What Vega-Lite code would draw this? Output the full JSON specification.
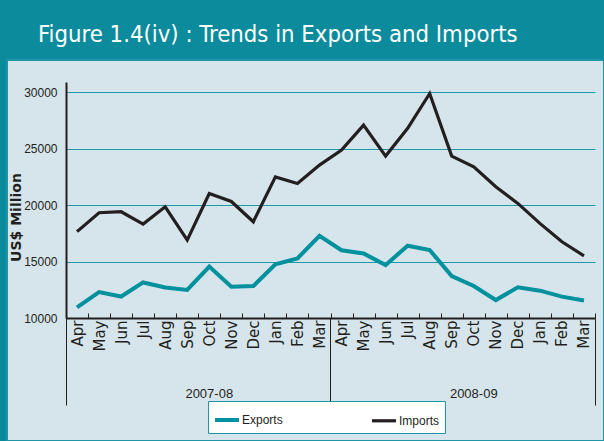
{
  "$schema": "https://vega.github.io/schema/vega-lite/v6.json",
  "autosize": {"type": "none"},
  "padding": {"left": 7, "top": 60, "right": 0, "bottom": 0},
  "background": "#0B8B9B",
  "width": 597,
  "height": 381,
  "view": {"fill": "#D6E5EB", "stroke": "#1F95A5", "strokeWidth": 2},
  "config": {"font": "DejaVu Sans"},
  "title": {"text": "Figure 1.4(iv) : Trends in Exports and Imports", "anchor": "start", "frame": "group", "orient": "top", "offset": -6, "dx": 31, "color": "white", "fontSize": 23.7, "fontWeight": "normal", "font": "DejaVu Sans Condensed, DejaVu Sans", "baseline": "alphabetic"},
  "data": {"values": [
      {"period": "2007-08|Apr", "series": "Exports", "value": 10950},
      {"period": "2007-08|May", "series": "Exports", "value": 12300},
      {"period": "2007-08|Jun", "series": "Exports", "value": 11900},
      {"period": "2007-08|Jul", "series": "Exports", "value": 13150},
      {"period": "2007-08|Aug", "series": "Exports", "value": 12700},
      {"period": "2007-08|Sep", "series": "Exports", "value": 12480},
      {"period": "2007-08|Oct", "series": "Exports", "value": 14550},
      {"period": "2007-08|Nov", "series": "Exports", "value": 12770},
      {"period": "2007-08|Dec", "series": "Exports", "value": 12830},
      {"period": "2007-08|Jan", "series": "Exports", "value": 14750},
      {"period": "2007-08|Feb", "series": "Exports", "value": 15280},
      {"period": "2007-08|Mar", "series": "Exports", "value": 17280},
      {"period": "2008-09|Apr", "series": "Exports", "value": 16000},
      {"period": "2008-09|May", "series": "Exports", "value": 15720},
      {"period": "2008-09|Jun", "series": "Exports", "value": 14690},
      {"period": "2008-09|Jul", "series": "Exports", "value": 16400},
      {"period": "2008-09|Aug", "series": "Exports", "value": 16020},
      {"period": "2008-09|Sep", "series": "Exports", "value": 13720},
      {"period": "2008-09|Oct", "series": "Exports", "value": 12830},
      {"period": "2008-09|Nov", "series": "Exports", "value": 11590},
      {"period": "2008-09|Dec", "series": "Exports", "value": 12720},
      {"period": "2008-09|Jan", "series": "Exports", "value": 12420},
      {"period": "2008-09|Feb", "series": "Exports", "value": 11890},
      {"period": "2008-09|Mar", "series": "Exports", "value": 11550},
      {"period": "2007-08|Apr", "series": "Imports", "value": 17650},
      {"period": "2007-08|May", "series": "Imports", "value": 19320},
      {"period": "2007-08|Jun", "series": "Imports", "value": 19410},
      {"period": "2007-08|Jul", "series": "Imports", "value": 18320},
      {"period": "2007-08|Aug", "series": "Imports", "value": 19850},
      {"period": "2007-08|Sep", "series": "Imports", "value": 16900},
      {"period": "2007-08|Oct", "series": "Imports", "value": 21030},
      {"period": "2007-08|Nov", "series": "Imports", "value": 20320},
      {"period": "2007-08|Dec", "series": "Imports", "value": 18520},
      {"period": "2007-08|Jan", "series": "Imports", "value": 22500},
      {"period": "2007-08|Feb", "series": "Imports", "value": 21910},
      {"period": "2007-08|Mar", "series": "Imports", "value": 23540},
      {"period": "2008-09|Apr", "series": "Imports", "value": 24870},
      {"period": "2008-09|May", "series": "Imports", "value": 27080},
      {"period": "2008-09|Jun", "series": "Imports", "value": 24340},
      {"period": "2008-09|Jul", "series": "Imports", "value": 26800},
      {"period": "2008-09|Aug", "series": "Imports", "value": 29880},
      {"period": "2008-09|Sep", "series": "Imports", "value": 24340},
      {"period": "2008-09|Oct", "series": "Imports", "value": 23390},
      {"period": "2008-09|Nov", "series": "Imports", "value": 21620},
      {"period": "2008-09|Dec", "series": "Imports", "value": 20150},
      {"period": "2008-09|Jan", "series": "Imports", "value": 18380},
      {"period": "2008-09|Feb", "series": "Imports", "value": 16750},
      {"period": "2008-09|Mar", "series": "Imports", "value": 15510}
  ]},
  "resolve": {"axis": {"x": "independent"}},
  "layer": [
    {
      "mark": {"type": "line"},
      "encoding": {
        "x": {
          "field": "period", "type": "ordinal", "sort": null,
          "scale": {"rangeMin": 59, "rangeMax": 588, "paddingInner": 0, "paddingOuter": 0},
          "axis": {"orient": "bottom", "offset": -123, "tickBand": "extent", "tickSize": -5, "tickColor": "#231F20", "tickWidth": 1, "domainColor": "#231F20", "domainWidth": 2, "labelAngle": -90, "labelExpr": "split(datum.value, '|')[1]", "labelFont": "DejaVu Sans", "labelFontSize": 15, "labelColor": "#231F20", "labelPadding": 7, "title": null, "grid": false}
        },
        "y": {
          "field": "value", "type": "quantitative",
          "scale": {"domain": [10000, 30900], "rangeMin": 258, "rangeMax": 22, "nice": false, "zero": false},
          "axis": {"offset": -59, "values": [10000, 15000, 20000, 25000, 30000], "format": "d", "ticks": false, "labelPadding": 9, "labelFont": "Liberation Sans", "labelFontSize": 12, "labelColor": "#231F20", "domainColor": "#231F20", "domainWidth": 2, "gridColor": "#1E97A8", "gridWidth": 1, "title": "US$ Million", "titleFont": "DejaVu Sans", "titleFontWeight": "bold", "titleFontSize": 14, "titleColor": "#231F20", "titleX": -43, "titleY": 157}
        },
        "color": {
          "field": "series", "type": "nominal",
          "scale": {"domain": ["Exports", "Imports"], "range": ["#00919E", "#231F20"]},
          "legend": {"orient": "none", "legendX": 201, "legendY": 341, "direction": "horizontal", "title": null, "fillColor": "white", "strokeColor": "#1F95A5", "padding": 5, "symbolType": "stroke", "symbolStrokeWidth": 4, "symbolSize": 576, "labelFont": "Liberation Sans", "labelFontSize": 12, "labelColor": "#231F20", "columnPadding": 82, "labelOffset": 1}
        },
        "strokeWidth": {
          "field": "series", "type": "nominal",
          "scale": {"domain": ["Exports", "Imports"], "range": [4, 3.2]},
          "legend": null
        }
      }
    },
    {
      "mark": {"type": "point", "opacity": 0},
      "encoding": {
        "x": {
          "field": "period", "type": "ordinal", "sort": null,
          "axis": {"orient": "bottom", "offset": -123, "values": ["2007-08|Apr", "2008-09|Apr"], "bandPosition": 0, "tickSize": 87, "tickColor": "#231F20", "tickWidth": 1, "labels": false, "domain": false, "grid": false, "title": null}
        }
      }
    },
    {
      "mark": {"type": "point", "opacity": 0},
      "encoding": {
        "x": {
          "field": "period", "type": "ordinal", "sort": null,
          "axis": {"orient": "bottom", "offset": -123, "values": ["2008-09|Mar"], "bandPosition": 1, "tickSize": 87, "tickColor": "#231F20", "tickWidth": 1, "labels": false, "domain": false, "grid": false, "title": null}
        }
      }
    },
    {
      "mark": {"type": "point", "opacity": 0},
      "encoding": {
        "x": {
          "field": "period", "type": "ordinal", "sort": null,
          "axis": {"orient": "bottom", "offset": -123, "values": ["2007-08|Oct", "2008-09|Oct"], "bandPosition": 0, "ticks": false, "domain": false, "grid": false, "title": null, "labelAngle": 0, "labelExpr": "split(datum.value, '|')[0]", "labelFont": "Liberation Sans", "labelFontSize": 13, "labelColor": "#231F20", "labelBaseline": "middle", "labelPadding": 75}
        }
      }
    }
  ]
}
